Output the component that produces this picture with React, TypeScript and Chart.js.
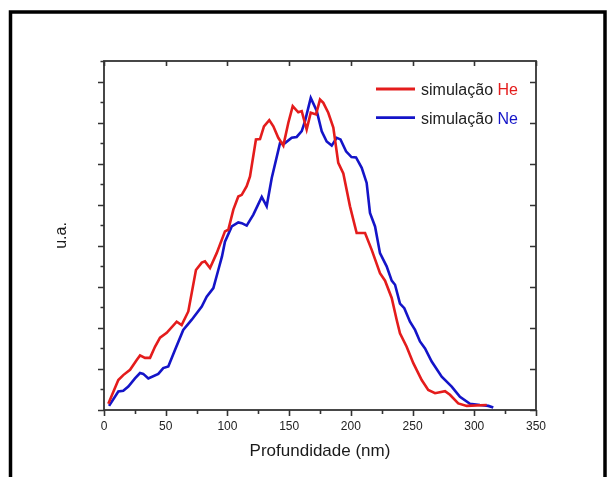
import React, { useEffect, useRef } from "react";
import { Chart, registerables } from "chart.js";

Chart.register(...registerables);

// Profundidade (nm) / u.a. — simulação He
const heX = [3.5, 11.6, 15.6, 21.1, 26.5, 29.2, 33.2, 37.3, 41.3, 45.4, 50.8, 58.9, 62.9, 68.3, 74.5, 79.2, 81.8, 85.9, 91.3, 98.0, 100.7, 104.8, 108.8, 111.6, 115.6, 118.3, 123.1, 126.4, 129.6, 133.9, 137.2, 141.2, 145.3, 149.3, 152.9, 157.4, 160.2, 164.2, 167.5, 171.8, 175.0, 177.7, 181.7, 185.8, 189.8, 193.9, 199.3, 204.7, 211.5, 216.9, 223.6, 227.7, 233.1, 237.1, 239.8, 245.2, 250.6, 257.4, 262.7, 268.2, 276.3, 280.3, 287.0, 293.9, 310.1];
const heY = [0.15, 0.73, 0.85, 0.98, 1.22, 1.33, 1.27, 1.27, 1.54, 1.76, 1.88, 2.15, 2.07, 2.40, 3.41, 3.59, 3.62, 3.46, 3.82, 4.35, 4.39, 4.88, 5.20, 5.24, 5.45, 5.69, 6.59, 6.60, 6.91, 7.06, 6.91, 6.63, 6.44, 6.99, 7.40, 7.25, 7.28, 6.83, 7.24, 7.20, 7.56, 7.48, 7.24, 6.88, 6.02, 5.76, 4.96, 4.31, 4.31, 3.90, 3.33, 3.15, 2.73, 2.20, 1.87, 1.54, 1.14, 0.73, 0.49, 0.41, 0.46, 0.37, 0.16, 0.10, 0.12];

// simulação Ne
const neX = [4.1, 11.6, 15.6, 19.7, 25.1, 29.2, 31.8, 35.9, 44.0, 48.0, 52.1, 57.5, 64.2, 71.1, 79.2, 83.2, 88.6, 92.6, 95.6, 98.0, 103.5, 108.8, 111.6, 115.6, 121.0, 127.8, 131.8, 135.9, 142.6, 146.6, 152.1, 156.1, 160.2, 162.8, 167.5, 172.3, 176.4, 180.4, 184.5, 188.5, 191.6, 196.1, 200.5, 204.2, 208.8, 212.8, 215.5, 219.6, 223.6, 229.0, 233.1, 235.8, 239.8, 243.3, 247.9, 252.0, 256.0, 260.1, 265.5, 273.6, 281.7, 288.4, 296.5, 304.6, 311.4, 315.4];
const neY = [0.10, 0.45, 0.47, 0.57, 0.77, 0.90, 0.88, 0.77, 0.88, 1.02, 1.06, 1.46, 1.95, 2.20, 2.52, 2.76, 2.97, 3.41, 3.74, 4.10, 4.47, 4.57, 4.55, 4.49, 4.76, 5.19, 4.96, 5.65, 6.50, 6.50, 6.63, 6.65, 6.79, 7.03, 7.60, 7.29, 6.79, 6.54, 6.44, 6.63, 6.59, 6.30, 6.16, 6.15, 5.90, 5.53, 4.80, 4.47, 3.82, 3.50, 3.15, 3.05, 2.59, 2.48, 2.15, 1.95, 1.67, 1.50, 1.18, 0.81, 0.57, 0.32, 0.15, 0.12, 0.10, 0.06];

const xTickValues = [0, 50, 100, 150, 200, 250, 300, 350];
const legendPrefix = ["simulação ", "simulação "];
const legendSuffix = ["He", "Ne"];
const xTitle = "Profundidade (nm)";
const yTitle = "u.a.";

const RED = "#e41c1c";
const BLUE = "#1414c8";
const AXIS = "#333333";
const FONT = "'Liberation Sans', Arial, Helvetica, sans-serif";

const framePlugin = {
  id: "framePlugin",
  beforeDraw(chart: any) {
    const { ctx, width, height } = chart;
    ctx.save();
    ctx.fillStyle = "#ffffff";
    ctx.fillRect(0, 0, width, height);
    ctx.strokeStyle = "#000000";
    ctx.lineWidth = 3.5;
    ctx.strokeRect(10.5, 12, 594.5, height + 40);
    ctx.restore();
  },
  afterDraw(chart: any) {
    const { ctx, chartArea: a, scales } = chart;
    const xs = scales.x;
    const ys = scales.y;
    ctx.save();
    ctx.strokeStyle = AXIS;
    ctx.lineWidth = 1.6;
    ctx.lineCap = "butt";
    ctx.beginPath();
    // bottom ticks (outward, major + minor)
    for (let v = xs.min; v <= xs.max + 0.001; v += 25) {
      const px = Math.round(xs.getPixelForValue(v)) + 0.5;
      const len = v % 50 === 0 ? 6 : 4;
      ctx.moveTo(px, a.bottom);
      ctx.lineTo(px, a.bottom + len);
    }
    // top ticks (inward, major only)
    for (let v = xs.min; v <= xs.max + 0.001; v += 50) {
      const px = Math.round(xs.getPixelForValue(v)) + 0.5;
      ctx.moveTo(px, a.top);
      ctx.lineTo(px, a.top + 5);
    }
    // left ticks (outward, major + minor)
    for (let v = ys.min; v <= ys.max + 0.001; v += 0.5) {
      const py = Math.round(ys.getPixelForValue(v)) + 0.5;
      const len = Math.abs(v - Math.round(v)) < 0.01 ? 6 : 3.5;
      ctx.moveTo(a.left - len, py);
      ctx.lineTo(a.left, py);
    }
    // right ticks (inward, major only)
    for (let v = ys.min; v <= ys.max + 0.001; v += 1) {
      const py = Math.round(ys.getPixelForValue(v)) + 0.5;
      ctx.moveTo(a.right - 6, py);
      ctx.lineTo(a.right, py);
    }
    ctx.stroke();
    ctx.lineWidth = 1.8;
    ctx.strokeRect(a.left, a.top, a.right - a.left, a.bottom - a.top);

    // legend
    const colors = [RED, BLUE];
    ctx.font = `16px ${FONT}`;
    ctx.textBaseline = "alphabetic";
    ctx.textAlign = "left";
    for (let i = 0; i < legendPrefix.length; i++) {
      const ly = a.top + 28 + i * 28.7;
      ctx.strokeStyle = colors[i];
      ctx.lineWidth = 2.8;
      ctx.beginPath();
      ctx.moveTo(a.right - 160, ly);
      ctx.lineTo(a.right - 121, ly);
      ctx.stroke();
      const tx = a.right - 115;
      ctx.fillStyle = "#222222";
      ctx.fillText(legendPrefix[i], tx, ly + 6);
      const w = ctx.measureText(legendPrefix[i]).width;
      ctx.fillStyle = colors[i];
      ctx.fillText(legendSuffix[i], tx + w, ly + 6);
    }
    ctx.restore();
  },
};

export default function App() {
  const ref = useRef<HTMLCanvasElement | null>(null);

  useEffect(() => {
    if (!ref.current) return;
    const toPts = (xs: number[], ys: number[]) => xs.map((x, i) => ({ x, y: ys[i] }));
    const chart = new Chart(ref.current, {
      type: "scatter",
      data: {
        datasets: [
          {
            label: "simulação He",
            data: toPts(heX, heY),
            showLine: true,
            borderColor: RED,
            backgroundColor: RED,
            borderWidth: 2.6,
            pointRadius: 0,
            tension: 0,
          },
          {
            label: "simulação Ne",
            data: toPts(neX, neY),
            showLine: true,
            borderColor: BLUE,
            backgroundColor: BLUE,
            borderWidth: 2.6,
            pointRadius: 0,
            tension: 0,
          },
        ],
      },
      options: {
        animation: false,
        responsive: false,
        maintainAspectRatio: false,
        devicePixelRatio: 1,
        layout: { padding: { top: 61, right: 73, left: 0, bottom: 0 } },
        plugins: {
          legend: { display: false },
          tooltip: { enabled: false },
        },
        scales: {
          x: {
            type: "linear",
            position: "bottom",
            min: 0,
            max: 350,
            grid: { display: false, drawTicks: false },
            border: { display: false },
            afterBuildTicks: (scale: any) => {
              scale.ticks = xTickValues.map((v) => ({ value: v }));
            },
            ticks: {
              color: "#222222",
              font: { family: FONT, size: 12 },
              padding: 9,
              maxRotation: 0,
              autoSkip: false,
            },
            title: {
              display: true,
              text: xTitle,
              color: "#1a1a1a",
              font: { family: FONT, size: 17 },
              padding: { top: 0, bottom: 15 },
            },
            afterFit: (scale: any) => {
              scale.height = 67;
            },
          },
          y: {
            type: "linear",
            position: "left",
            min: 0,
            max: 8.5,
            grid: { display: false, drawTicks: false },
            border: { display: false },
            ticks: { display: false, stepSize: 1 },
            title: {
              display: true,
              text: yTitle,
              color: "#1a1a1a",
              font: { family: FONT, size: 16 },
              padding: { top: 52, bottom: 0 },
            },
            afterFit: (scale: any) => {
              scale.width = 104;
            },
          },
        },
      },
      plugins: [framePlugin],
    } as any);
    return () => chart.destroy();
  }, []);

  return (
    <div style={{ position: "absolute", left: 0, top: 0, width: 609, height: 477, background: "#fff" }}>
      <canvas ref={ref} width={609} height={477} style={{ display: "block", width: 609, height: 477 }} />
    </div>
  );
}
